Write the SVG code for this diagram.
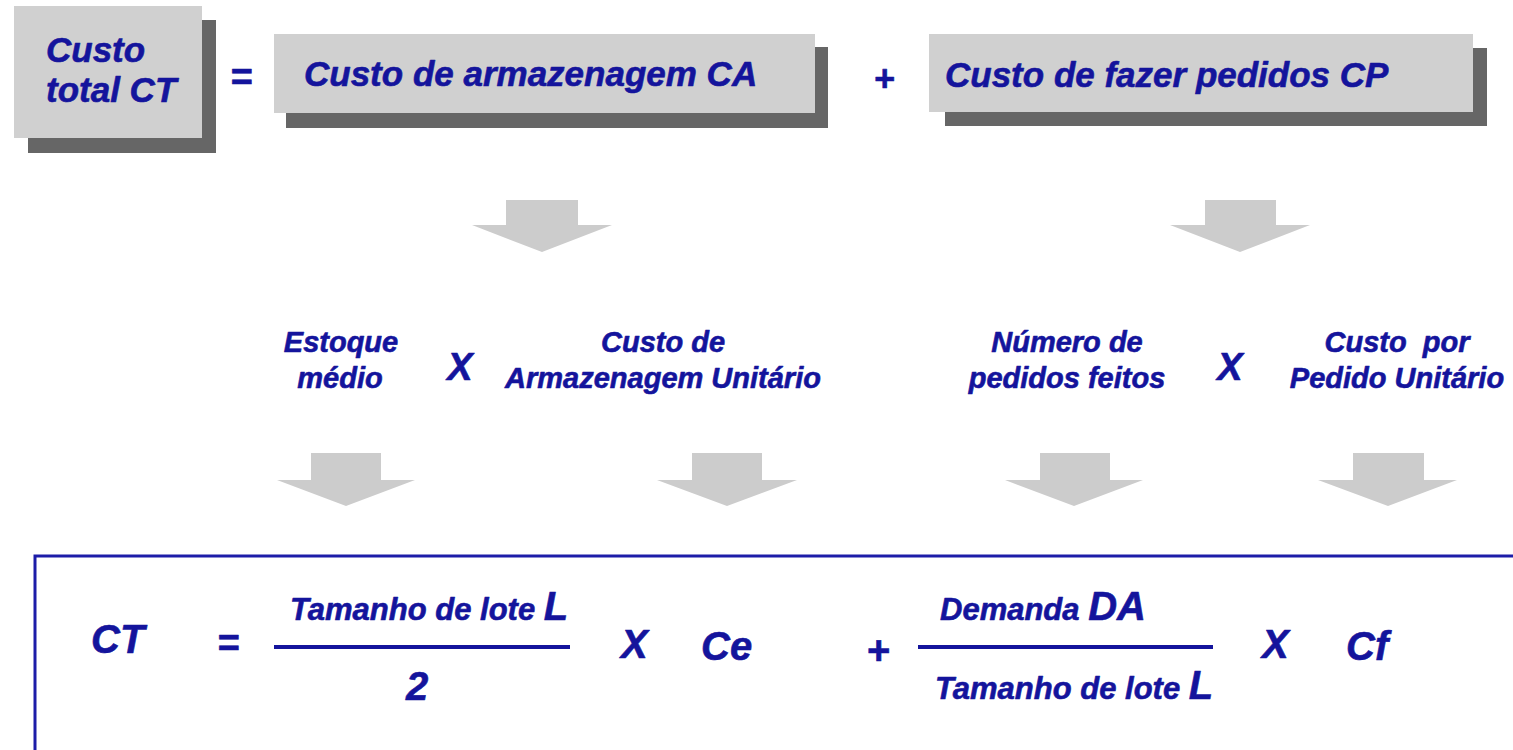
<svg xmlns="http://www.w3.org/2000/svg" width="1513" height="750" viewBox="0 0 1513 750">
<style>
.t{font-family:"Liberation Sans",Arial,Helvetica,sans-serif;font-weight:bold;font-style:italic;fill:#14149c;stroke:#14149c;stroke-width:0.6;stroke-linejoin:round}
.box{fill:#d0d0d0}
.shadow{fill:#666666}
.arrow{fill:#cccccc}
.frac{stroke:#14149c;stroke-width:4;fill:none}
</style>
<rect width="1513" height="750" fill="#ffffff"/>
<g id="node-ct">
<rect class="shadow" x="28" y="20" width="188" height="133"/>
<rect class="box" x="14" y="6" width="188" height="132"/>
<text class="t" x="46" y="62" font-size="35">Custo</text>
<text class="t" x="46" y="102" font-size="35">total CT</text>
</g>
<g id="op-eq"><text class="t" x="241" y="90" font-size="38" text-anchor="middle">=</text></g>
<g id="node-ca">
<rect class="shadow" x="286" y="47" width="542" height="81"/>
<rect class="box" x="274" y="34" width="541" height="79"/>
<text class="t" x="304" y="86" font-size="35">Custo de armazenagem CA</text>
</g>
<g id="op-plus"><text class="t" x="884" y="91" font-size="36" text-anchor="middle">+</text></g>
<g id="node-cp">
<rect class="shadow" x="945" y="48" width="542" height="78"/>
<rect class="box" x="929" y="34" width="544" height="78"/>
<text class="t" x="945" y="87" font-size="35">Custo de fazer pedidos CP</text>
</g>
<g id="connectors">
<polygon class="arrow" points="506,200 578,200 578,225 612,225 542,252 472,225 506,225"/>
<polygon class="arrow" points="1205,200 1276,200 1276,225 1310,225 1240,252 1170,225 1205,225"/>
<polygon class="arrow" points="311,453 381,453 381,480 415,480 346,506 277,480 311,480"/>
<polygon class="arrow" points="692,453 762,453 762,480 797,480 727,506 657,480 692,480"/>
<polygon class="arrow" points="1040,453 1110,453 1110,480 1143,480 1074,506 1005,480 1040,480"/>
<polygon class="arrow" points="1353,453 1424,453 1424,480 1457,480 1388,506 1318,480 1353,480"/>
</g>
<g id="node-estoque">
<text class="t" x="341" y="352" font-size="29" text-anchor="middle">Estoque</text>
<text class="t" x="340" y="388" font-size="29" text-anchor="middle">médio</text>
</g>
<g id="op-x1"><text class="t" x="460" y="380" font-size="38" text-anchor="middle">X</text></g>
<g id="node-armazenagem">
<text class="t" x="663" y="352" font-size="29" text-anchor="middle">Custo de</text>
<text class="t" x="663" y="388" font-size="29" text-anchor="middle">Armazenagem Unitário</text>
</g>
<g id="node-numero">
<text class="t" x="1067" y="352" font-size="29" text-anchor="middle">Número de</text>
<text class="t" x="1067" y="388" font-size="29" text-anchor="middle">pedidos feitos</text>
</g>
<g id="op-x2"><text class="t" x="1230" y="380" font-size="38" text-anchor="middle">X</text></g>
<g id="node-pedido">
<text class="t" x="1397" y="352" font-size="29" text-anchor="middle" xml:space="preserve">Custo  por</text>
<text class="t" x="1397" y="388" font-size="29" text-anchor="middle">Pedido Unitário</text>
</g>
<g id="node-formula">
<rect x="35" y="556" width="1500" height="220" fill="none" stroke="#1c1ca8" stroke-width="3"/>
<text class="t" x="91" y="653" font-size="40">CT</text>
<text class="t" x="228" y="656" font-size="38" text-anchor="middle">=</text>
<line class="frac" x1="274" y1="647" x2="570" y2="647"/>
<text class="t" x="290" y="620" font-size="31">Tamanho de lote <tspan font-size="40">L</tspan></text>
<text class="t" x="417" y="700" font-size="40" text-anchor="middle">2</text>
<text class="t" x="621" y="658" font-size="40">X</text>
<text class="t" x="701" y="660" font-size="40">Ce</text>
<text class="t" x="878" y="664" font-size="40" text-anchor="middle">+</text>
<line class="frac" x1="918" y1="647" x2="1213" y2="647"/>
<text class="t" x="940" y="620" font-size="31">Demanda <tspan font-size="40">DA</tspan></text>
<text class="t" x="935" y="699" font-size="31">Tamanho de lote <tspan font-size="40">L</tspan></text>
<text class="t" x="1262" y="658" font-size="40">X</text>
<text class="t" x="1346" y="660" font-size="40">Cf</text>
</g>
</svg>
